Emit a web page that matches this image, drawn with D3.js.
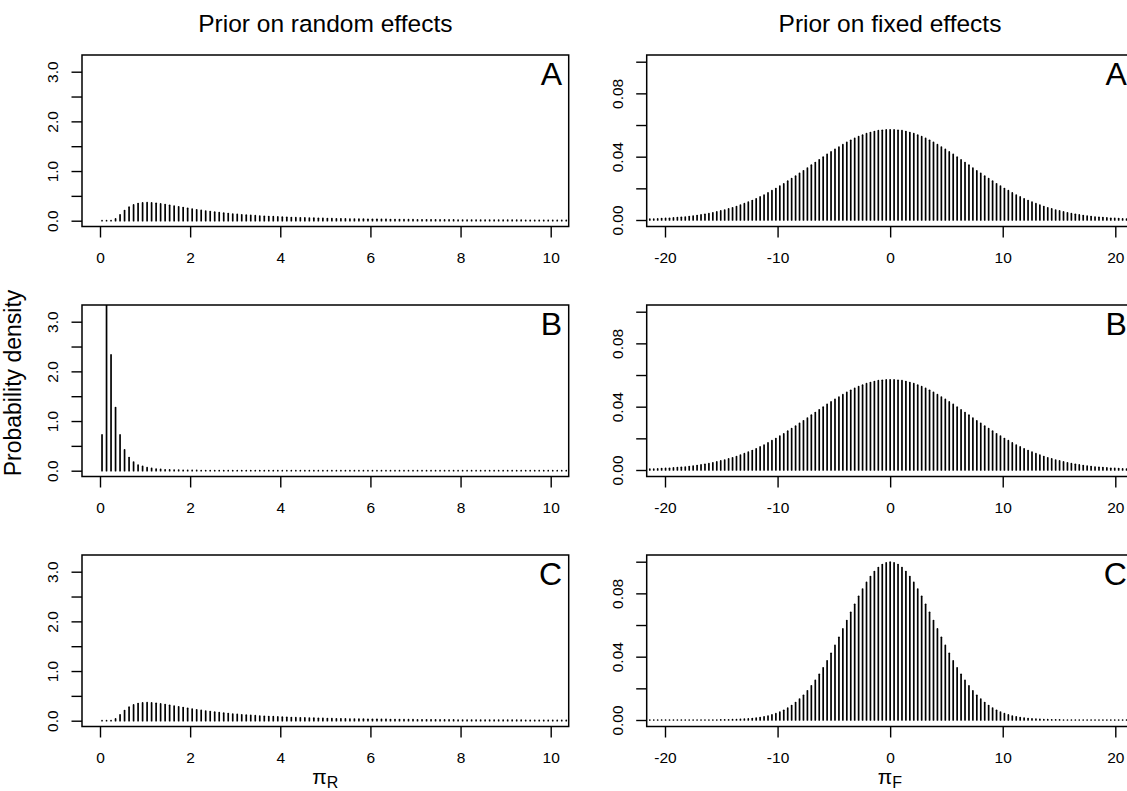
<!DOCTYPE html>
<html><head><meta charset="utf-8">
<script src="https://cdn.jsdelivr.net/npm/d3@7"></script>
<style>body{margin:0;background:#fff}svg{display:block;font-family:"Liberation Sans",Arial,sans-serif}
.tick text{font-size:15.5px;font-family:"Liberation Sans",Arial,sans-serif;fill:#000}</style>
</head><body>
<script>
// ---------- DATA ----------
const columnTitles = ["Prior on random effects", "Prior on fixed effects"];
const panelLetters = ["A", "B", "C"];
const yAxisTitle = "Probability density";
const randomTicksX = [0, 2, 4, 6, 8, 10];
const randomTicksY = [0, 0.5, 1, 1.5, 2, 2.5, 3];
const randomLabelsY = ["0.0", "", "1.0", "", "2.0", "", "3.0"];
const fixedTicksX = [-20, -10, 0, 10, 20];
const fixedTicksY = [0, 0.02, 0.04, 0.06, 0.08, 0.10];
const fixedLabelsY = ["0.00", "", "0.04", "", "0.08", ""];

// grid of pi_R values (spike positions)
const randomGrid = [
0.045,0.145,0.245,0.345,0.445,0.545,0.645,0.745,0.845,0.945,
1.045,1.145,1.245,1.345,1.445,1.545,1.645,1.745,1.845,1.945,
2.045,2.145,2.245,2.345,2.445,2.545,2.645,2.745,2.845,2.945,
3.045,3.145,3.245,3.345,3.445,3.545,3.645,3.745,3.845,3.945,
4.045,4.145,4.245,4.345,4.445,4.545,4.645,4.745,4.845,4.945,
5.045,5.145,5.245,5.345,5.445,5.545,5.645,5.745,5.845,5.945,
6.045,6.145,6.245,6.345,6.445,6.545,6.645,6.745,6.845,6.945,
7.045,7.145,7.245,7.345,7.445,7.545,7.645,7.745,7.845,7.945,
8.045,8.145,8.245,8.345,8.445,8.545,8.645,8.745,8.845,8.945,
9.045,9.145,9.245,9.345,9.445,9.545,9.645,9.745,9.845,9.945,
10.045,10.145,10.245,10.345];

const randomA = [
0.000,0.000,0.003,0.035,0.118,0.205,0.272,0.318,0.345,0.358,
0.362,0.358,0.350,0.338,0.325,0.310,0.295,0.280,0.264,0.249,
0.234,0.220,0.207,0.194,0.183,0.172,0.162,0.152,0.143,0.135,
0.127,0.119,0.112,0.106,0.100,0.094,0.089,0.084,0.080,0.075,
0.071,0.068,0.064,0.061,0.058,0.055,0.052,0.050,0.047,0.045,
0.043,0.041,0.039,0.037,0.036,0.034,0.033,0.031,0.030,0.029,
0.028,0.027,0.026,0.025,0.024,0.023,0.022,0.021,0.021,0.020,
0.019,0.019,0.018,0.017,0.017,0.016,0.016,0.015,0.015,0.014,
0.014,0.014,0.013,0.013,0.012,0.012,0.012,0.011,0.011,0.011,
0.010,0.010,0.010,0.010,0.009,0.009,0.009,0.009,0.008,0.008,
0.008,0.008,0.008,0.007];

const randomB = [
0.72,4.60,2.33,1.27,0.72,0.42,0.265,0.175,0.115,0.085,
0.060,0.045,0.033,0.025,0.019,0.015,0.012,0.010,0.008,0.007,
0.006,0.005,0.004,0.004,0.003,0.003,0.003,0.002,0.002,0.002,
0.002,0.002,0.002,0.002,0.002,0.002,0.002,0.002,0.002,0.002,
0.001,0.001,0.001,0.001,0.001,0.001,0.001,0.001,0.001,0.001,
0.001,0.001,0.001,0.001,0.001,0.001,0.001,0.001,0.001,0.001,
0.001,0.001,0.001,0.001,0.001,0.001,0.001,0.001,0.001,0.001,
0.001,0.001,0.001,0.001,0.001,0.001,0.001,0.001,0.001,0.001,
0.001,0.001,0.001,0.001,0.001,0.001,0.001,0.001,0.001,0.001,
0.001,0.001,0.001,0.001,0.001,0.001,0.001,0.001,0.001,0.001,
0.001,0.001,0.001,0.001];

const randomC = randomA.slice();

// grid of pi_F values (spike positions)
const fixedGrid = [
-21.35,-21,-20.65,-20.3,-19.95,-19.6,-19.25,-18.9,-18.55,-18.2,
-17.85,-17.5,-17.15,-16.8,-16.45,-16.1,-15.75,-15.4,-15.05,-14.7,
-14.35,-14,-13.65,-13.3,-12.95,-12.6,-12.25,-11.9,-11.55,-11.2,
-10.85,-10.5,-10.15,-9.8,-9.45,-9.1,-8.75,-8.4,-8.05,-7.7,
-7.35,-7,-6.65,-6.3,-5.95,-5.6,-5.25,-4.9,-4.55,-4.2,
-3.85,-3.5,-3.15,-2.8,-2.45,-2.1,-1.75,-1.4,-1.05,-0.7,
-0.35,0,
0.35,0.7,1.05,1.4,1.75,2.1,2.45,2.8,3.15,3.5,
3.85,4.2,4.55,4.9,5.25,5.6,5.95,6.3,6.65,7,
7.35,7.7,8.05,8.4,8.75,9.1,9.45,9.8,10.15,10.5,
10.85,11.2,11.55,11.9,12.25,12.6,12.95,13.3,13.65,14,
14.35,14.7,15.05,15.4,15.75,16.1,16.45,16.8,17.15,17.5,
17.85,18.2,18.55,18.9,19.25,19.6,19.95,20.3,20.65,21,21.35];

const fixedA = [
0.0005,0.0006,0.0007,0.0009,0.0010,0.0011,0.0013,0.0015,0.0017,0.0019,
0.0022,0.0025,0.0028,0.0032,0.0036,0.0040,0.0045,0.0051,0.0057,0.0063,
0.0070,0.0077,0.0085,0.0094,0.0103,0.0113,0.0123,0.0134,0.0146,0.0158,
0.0171,0.0185,0.0199,0.0214,0.0229,0.0245,0.0261,0.0277,0.0294,0.0311,
0.0328,0.0346,0.0363,0.0380,0.0397,0.0414,0.0430,0.0446,0.0461,0.0476,
0.0490,0.0503,0.0515,0.0526,0.0536,0.0545,0.0552,0.0559,0.0564,0.0567,
0.0569,0.0570,
0.0569,0.0567,0.0564,0.0559,0.0552,0.0545,0.0536,0.0526,0.0515,0.0503,
0.0490,0.0476,0.0461,0.0446,0.0430,0.0414,0.0397,0.0380,0.0363,0.0346,
0.0328,0.0311,0.0294,0.0277,0.0261,0.0245,0.0229,0.0214,0.0199,0.0185,
0.0171,0.0158,0.0146,0.0134,0.0123,0.0113,0.0103,0.0094,0.0085,0.0077,
0.0070,0.0063,0.0057,0.0051,0.0045,0.0040,0.0036,0.0032,0.0028,0.0025,
0.0022,0.0019,0.0017,0.0015,0.0013,0.0011,0.0010,0.0009,0.0007,0.0006,0.0005];

const fixedB = fixedA.slice();

const fixedC = [
0,0,0,0,0,0,0,0,0,0,
0,0,0,0,0,0,0,0,0.0001,0.0001,
0.0001,0.0002,0.0003,0.0004,0.0005,0.0007,0.0009,0.0012,0.0015,0.0020,
0.0025,0.0032,0.0040,0.0050,0.0061,0.0075,0.0091,0.0110,0.0132,0.0156,
0.0184,0.0216,0.0250,0.0289,0.0330,0.0374,0.0421,0.0471,0.0522,0.0575,
0.0628,0.0680,0.0731,0.0781,0.0827,0.0869,0.0906,0.0938,0.0963,0.0982,
0.0993,0.0997,
0.0993,0.0982,0.0963,0.0938,0.0906,0.0869,0.0827,0.0781,0.0731,0.0680,
0.0628,0.0575,0.0522,0.0471,0.0421,0.0374,0.0330,0.0289,0.0250,0.0216,
0.0184,0.0156,0.0132,0.0110,0.0091,0.0075,0.0061,0.0050,0.0040,0.0032,
0.0025,0.0020,0.0015,0.0012,0.0009,0.0007,0.0005,0.0004,0.0003,0.0002,
0.0001,0.0001,0.0001,0,0,0,0,0,0,0,
0,0,0,0,0,0,0,0,0,0,0];

const randomSeries = [randomA, randomB, randomC];
const fixedSeries = [fixedA, fixedB, fixedC];

// ---------- LAYOUT ----------
const W = 1127, H = 791;
const svg = d3.select("body").append("svg").attr("width", W).attr("height", H);
const rowTops = [55, 305, 555];
const boxH = 171.5;
const cols = [
  {x0: 82, x1: 568.7, grid: randomGrid, series: randomSeries,
   x: d3.scaleLinear().domain([0, 10]).range([100, 550.7]),
   yDom: [0, 3], yOff: [165.7, 16.7], tx: randomTicksX, ty: randomTicksY, tyl: randomLabelsY},
  {x0: 646.7, x1: 1133.3, grid: fixedGrid, series: fixedSeries,
   x: d3.scaleLinear().domain([-20, 20]).range([665, 1115.3]),
   yDom: [0, 0.1], yOff: [165, 6.7], tx: fixedTicksX, ty: fixedTicksY, tyl: fixedLabelsY}
];

let clipId = 0;
cols.forEach((c, ci) => {
  rowTops.forEach((top, ri) => {
    const bottom = top + boxH;
    const y = d3.scaleLinear().domain(c.yDom).range([top + c.yOff[0], top + c.yOff[1]]);
    const id = "clip" + (clipId++);
    svg.append("clipPath").attr("id", id).append("rect")
      .attr("x", c.x0).attr("y", top).attr("width", c.x1 - c.x0).attr("height", boxH);
    const vals = c.series[ri];
    const data = c.grid.map((g, i) => ({g, v: vals[i]})).filter(d => d.v !== undefined);
    svg.append("g").attr("clip-path", `url(#${id})`)
      .selectAll("line").data(data).join("line")
      .attr("x1", d => c.x(d.g)).attr("x2", d => c.x(d.g))
      .attr("y1", y(0)).attr("y2", d => y(d.v) - 0.01)
      .attr("stroke", "#000").attr("stroke-width", 1.7).attr("stroke-linecap", "round");

    // x axis
    const ax = svg.append("g").attr("transform", `translate(0,${bottom})`)
      .call(d3.axisBottom(c.x).tickValues(c.tx).tickSize(11).tickPadding(14)
        .tickFormat(d => String(d)));
    ax.attr("font-size", null).attr("font-family", null);
    ax.select(".domain").remove();
    ax.selectAll("line").attr("stroke-width", 1.4);

    // y axis
    const ay = svg.append("g").attr("transform", `translate(${c.x0},0)`)
      .call(d3.axisLeft(y).tickValues(c.ty).tickSize(10.5)
        .tickFormat((d, i) => c.tyl[i]));
    ay.attr("font-size", null).attr("font-family", null);
    ay.select(".domain").remove();
    ay.selectAll("line").attr("stroke-width", 1.4);
    ay.selectAll("text")
      .attr("transform", "rotate(-90)").attr("x", 0).attr("y", -24).attr("dy", 0)
      .attr("text-anchor", "middle");

    // box
    svg.append("rect").attr("x", c.x0).attr("y", top).attr("width", c.x1 - c.x0).attr("height", boxH)
      .attr("fill", "none").attr("stroke", "#000").attr("stroke-width", 1.5);

    // panel letter
    svg.append("text").attr("x", c.x1 - 6.5).attr("y", top + 30).attr("text-anchor", "end")
      .style("font-size", "32px").text(panelLetters[ri]);
  });
  // column title
  svg.append("text").attr("x", (c.x0 + c.x1) / 2).attr("y", 31.5).attr("text-anchor", "middle")
    .style("font-size", "24.5px").text(columnTitles[ci]);
});

// y-axis title
svg.append("text").attr("transform", "translate(21,383) rotate(-90)")
  .attr("text-anchor", "middle").style("font-size", "23px").text(yAxisTitle);

// x-axis titles (pi_R, pi_F)
[["R", (82 + 568.7) / 2], ["F", (646.7 + 1133.3) / 2]].forEach(([sub, cx]) => {
  const t = svg.append("text").attr("x", cx).attr("y", 784).attr("text-anchor", "middle");
  t.append("tspan").style("font-size", "21px").text("π");
  t.append("tspan").style("font-size", "16px").attr("dy", 4).text(sub);
});
</script>
</body></html>
